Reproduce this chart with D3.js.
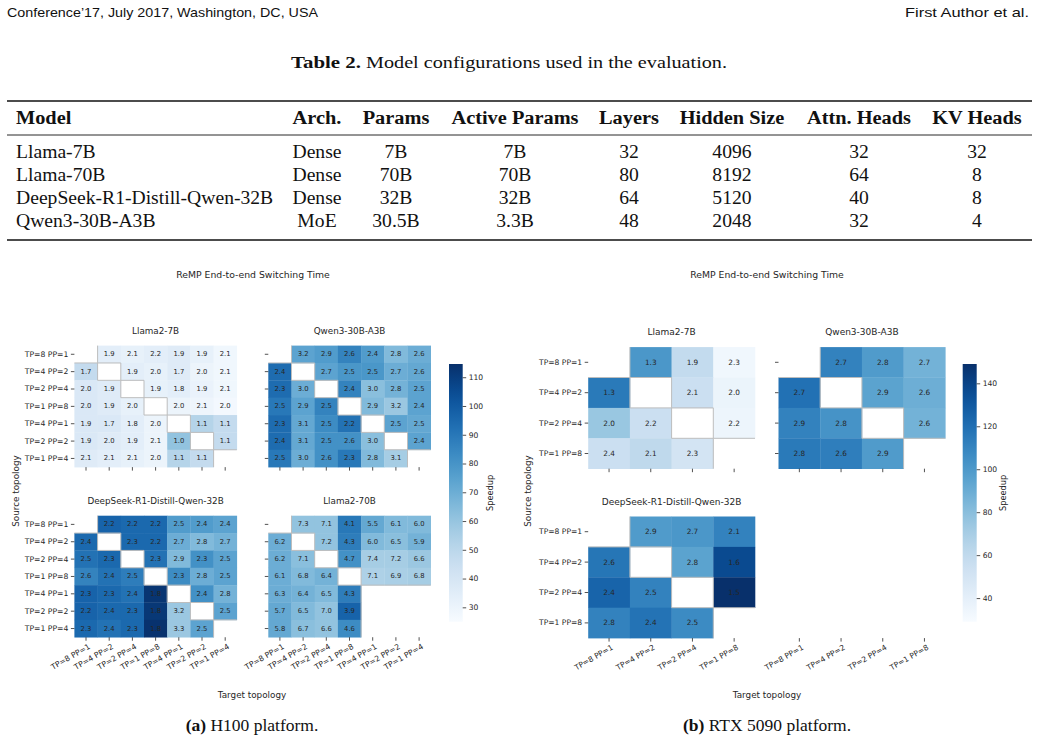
<!DOCTYPE html>
<html><head><meta charset="utf-8">
<script src="https://cdn.jsdelivr.net/npm/d3@7"></script>
<style>body{margin:0;background:#fff}svg{display:block}</style>
</head><body>
<svg id="fig" width="1039" height="743"></svg>
<script>
// ---------------- Table data ----------------
const tableHeader = ["Model","Arch.","Params","Active Params","Layers","Hidden Size","Attn. Heads","KV Heads"];
const models = ["Llama-7B","Llama-70B","DeepSeek-R1-Distill-Qwen-32B","Qwen3-30B-A3B"];
const archs = ["Dense","Dense","Dense","MoE"];
const params = ["7B","70B","32B","30.5B"];
const activeParams = ["7B","70B","32B","3.3B"];
const layers = ["32","80","64","48"];
const hiddenSize = ["4096","8192","5120","2048"];
const attnHeads = ["32","64","40","32"];
const kvHeads = ["32","8","8","4"];

// ---------------- Heatmap data ----------------
const topoH100 = ["TP=8 PP=1","TP=4 PP=2","TP=2 PP=4","TP=1 PP=8","TP=4 PP=1","TP=2 PP=2","TP=1 PP=4"];
const topoRTX = ["TP=8 PP=1","TP=4 PP=2","TP=2 PP=4","TP=1 PP=8"];

// annotated switching times (s); colour = speedup
const h100Llama7Time = [
 [null,1.9,2.1,2.2,1.9,1.9,2.1],
 [1.7,null,1.9,2.0,1.7,2.0,2.1],
 [2.0,1.9,null,1.9,1.8,1.9,2.1],
 [2.0,1.9,2.0,null,2.0,2.1,2.0],
 [1.9,1.7,1.8,2.0,null,1.1,1.1],
 [1.9,2.0,1.9,2.1,1.0,null,1.1],
 [2.1,2.1,2.1,2.0,1.1,1.1,null]];
const h100Llama7Speedup = [
 [null,34,32,34,36,32,28],
 [47,null,34,32,36,30,28],
 [38,36,null,32,34,31,28],
 [38,36,32,null,30,29,27],
 [38,38,34,30,null,52,47],
 [38,36,34,30,61,null,47],
 [36,34,32,30,52,47,null]];
const h100QwenTime = [
 [null,3.2,2.9,2.6,2.4,2.8,2.6],
 [2.4,null,2.7,2.5,2.5,2.7,2.6],
 [2.3,3.0,null,2.4,3.0,2.8,2.5],
 [2.5,2.9,2.5,null,2.9,3.2,2.4],
 [2.3,3.1,2.5,2.2,null,2.5,2.5],
 [2.4,3.1,2.5,2.6,3.0,null,2.4],
 [2.5,3.0,2.6,2.3,2.8,3.1,null]];
const h100QwenSpeedup = [
 [null,74,77,86,77,65,70],
 [94,null,74,79,79,70,72],
 [94,70,null,86,63,68,74],
 [90,74,86,null,65,59,74],
 [94,72,83,92,null,74,72],
 [94,72,81,81,63,null,74],
 [90,70,81,90,65,56,null]];
const h100DeepSeekTime = [
 [null,2.2,2.2,2.2,2.5,2.4,2.4],
 [2.4,null,2.3,2.2,2.7,2.8,2.7],
 [2.5,2.3,null,2.3,2.9,2.3,2.5],
 [2.6,2.4,2.5,null,2.3,2.8,2.5],
 [2.3,2.3,2.4,1.8,null,2.4,2.8],
 [2.2,2.4,2.3,1.8,3.2,null,2.5],
 [2.3,2.4,2.3,1.8,3.3,2.5,null]];
const h100DeepSeekSpeedup = [
 [null,97,95,95,77,77,74],
 [95,null,95,95,70,65,68],
 [92,95,null,92,65,81,74],
 [86,92,88,null,83,70,74],
 [97,95,92,113,null,81,68],
 [97,95,95,112,59,null,74],
 [95,92,95,114,59,74,null]];
const h100Llama70Time = [
 [null,7.3,7.1,4.1,5.5,6.1,6.0],
 [6.2,null,7.2,4.3,6.0,6.5,5.9],
 [6.2,7.1,null,4.7,7.4,7.2,6.6],
 [6.1,6.8,6.4,null,7.1,6.9,6.8],
 [6.3,6.4,6.5,4.3,null,null,null],
 [5.7,6.5,7.0,3.9,null,null,null],
 [5.8,6.7,6.6,4.6,null,null,null]];
const h100Llama70Speedup = [
 [null,61,61,90,72,65,65],
 [70,null,61,88,65,63,68],
 [70,63,null,81,56,56,59],
 [70,65,68,null,54,55,56],
 [70,68,65,88,null,null,null],
 [72,65,61,97,null,null,null],
 [72,63,61,83,null,null,null]];

const rtxLlama7Time = [
 [null,1.3,1.9,2.3],
 [1.3,null,2.1,2.0],
 [2.0,2.2,null,2.2],
 [2.4,2.1,2.3,null]];
const rtxLlama7Speedup = [
 [null,101,59,33],
 [115,null,55,36],
 [75,55,null,35],
 [55,61,51,null]];
const rtxQwenTime = [
 [null,2.7,2.8,2.7],
 [2.7,null,2.9,2.6],
 [2.9,2.8,null,2.6],
 [2.8,2.6,2.9,null]];
const rtxQwenSpeedup = [
 [null,111,99,87],
 [119,null,95,89],
 [111,103,null,87],
 [115,113,99,null]];
const rtxDeepSeekTime = [
 [null,2.9,2.7,2.1],
 [2.6,null,2.8,1.6],
 [2.4,2.5,null,1.5],
 [2.8,2.4,2.5,null]];
const rtxDeepSeekSpeedup = [
 [null,99,101,111],
 [117,null,95,137],
 [125,111,null,149],
 [111,118,107,null]];

const h100Domain = [25, 114.6];
const rtxDomain = [29, 149];
const h100Ticks = [30,40,50,60,70,80,90,100,110];
const rtxTicks = [40,60,80,100,120,140];

// ---------------- Drawing ----------------
const svg = d3.select("#fig");
const SANS = "DejaVu Sans";
const SERIF = "Liberation Serif";
const TXT = "#262626";

function stretch(sel, k) {
  const n = sel.node();
  const w = n.getComputedTextLength();
  sel.attr("textLength", w * k).attr("lengthAdjust", "spacingAndGlyphs");
  return sel;
}

// page header
svg.append("text").attr("x",7).attr("y",17).attr("font-family","Liberation Sans").attr("font-size",13)
  .attr("textLength",311).attr("lengthAdjust","spacingAndGlyphs").attr("fill","#111")
  .text("Conference’17, July 2017, Washington, DC, USA");
svg.append("text").attr("x",905).attr("y",17).attr("font-family","Liberation Sans")
  .attr("font-size",13).attr("textLength",124).attr("lengthAdjust","spacingAndGlyphs").attr("fill","#111").text("First Author et al.");

// table caption
svg.append("text").attr("x",291).attr("y",68).attr("font-family",SERIF).attr("font-size",16.5)
  .attr("font-weight","bold").attr("fill","#111").attr("textLength",70).attr("lengthAdjust","spacingAndGlyphs").text("Table 2.");
svg.append("text").attr("x",366).attr("y",68).attr("font-family",SERIF).attr("font-size",16.5)
  .attr("fill","#111").attr("textLength",361).attr("lengthAdjust","spacingAndGlyphs").text("Model configurations used in the evaluation.");

// table
const colX = [16, 317, 396, 515, 629, 732, 859, 977];
const rowY = [124, 158, 181, 204, 227];
const tbl = svg.append("g").attr("font-family",SERIF).attr("fill","#111");
tbl.append("line").attr("x1",7).attr("x2",1032).attr("y1",101).attr("y2",101).attr("stroke","#111").attr("stroke-width",1.6);
tbl.append("line").attr("x1",7).attr("x2",1032).attr("y1",135).attr("y2",135).attr("stroke","#111").attr("stroke-width",0.9);
tbl.append("line").attr("x1",7).attr("x2",1032).attr("y1",240).attr("y2",240).attr("stroke","#111").attr("stroke-width",1.6);
const rowsData = models.map((m,i)=>[m,archs[i],params[i],activeParams[i],layers[i],hiddenSize[i],attnHeads[i],kvHeads[i]]);
[tableHeader, ...rowsData].forEach((row, r) => {
  row.forEach((cell, c) => {
    const t = tbl.append("text").attr("x", colX[c]).attr("y", rowY[r])
      .attr("text-anchor", c === 0 ? "start" : "middle")
      .attr("font-size", 18).attr("font-weight", r === 0 ? "bold" : "normal")
      .text(cell);
    stretch(t, r === 0 ? 1.13 : 1.09);
  });
});

function heatmap(o) {
  const g = svg.append("g");
  const nr = o.rows.length, nc = o.cols.length;
  const x = d3.scaleBand().domain(o.cols).range([o.x0, o.x0 + o.cw*nc]);
  const y = d3.scaleBand().domain(o.rows).range([o.y0, o.y0 + o.rh*nr]);
  const color = d3.scaleSequential(d3.interpolateBlues).domain(o.domain);
  if (o.vals) {
    o.vals.forEach((row, i) => row.forEach((v, j) => {
      if (v == null) return;
      g.append("rect").attr("x", x(o.cols[j])).attr("y", y(o.rows[i]))
        .attr("width", x.bandwidth()+0.3).attr("height", y.bandwidth()+0.3).attr("fill", color(v));
    }));
    // light outline on the edges of masked cells that touch a coloured cell
    const has = (i, j) => i >= 0 && j >= 0 && i < nr && j < nc && o.vals[i][j] != null;
    const edges = g.append("g").attr("stroke", "#bdbdbd").attr("stroke-width", 1);
    o.vals.forEach((row, i) => row.forEach((v, j) => {
      if (v != null) return;
      const xl = x(o.cols[j]), xr = xl + x.bandwidth(), yt = y(o.rows[i]), yb = yt + y.bandwidth();
      if (has(i-1, j)) edges.append("line").attr("x1", xl).attr("x2", xr).attr("y1", yt).attr("y2", yt);
      if (has(i+1, j)) edges.append("line").attr("x1", xl).attr("x2", xr).attr("y1", yb).attr("y2", yb);
      if (has(i, j-1)) edges.append("line").attr("x1", xl).attr("x2", xl).attr("y1", yt).attr("y2", yb);
      if (has(i, j+1)) edges.append("line").attr("x1", xr).attr("x2", xr).attr("y1", yt).attr("y2", yb);
    }));
    o.annot.forEach((row, i) => row.forEach((v, j) => {
      if (v == null) return;
      g.append("text").attr("x", x(o.cols[j]) + x.bandwidth()/2).attr("y", y(o.rows[i]) + y.bandwidth()/2)
        .attr("text-anchor","middle").attr("dominant-baseline","central")
        .attr("font-family",SANS).attr("font-size",o.annotFs).attr("fill",TXT).text(v.toFixed(1));
    }));
    g.append("text").attr("x", o.x0 + o.cw*nc/2).attr("y", o.y0 - 12)
      .attr("text-anchor","middle").attr("font-family",SANS).attr("font-size",o.titleFs).attr("fill",TXT).text(o.title);
  }
  // y axis
  if (o.yTicks) {
    const ya = g.append("g").attr("transform", `translate(${o.x0},0)`)
      .call(d3.axisLeft(y).tickSize(3.5).tickPadding(2.5).tickFormat(o.yLabels ? (d=>d) : (()=>"")));
    ya.select(".domain").remove();
    ya.selectAll("line").attr("stroke",TXT).attr("stroke-width",0.8);
    ya.selectAll("text").attr("font-family",SANS).attr("font-size",o.tickFs).attr("fill",TXT);
  }
  // x axis
  const xb = o.y0 + o.rh*nr;
  const xa = g.append("g").attr("transform", `translate(0,${xb})`)
    .call(d3.axisBottom(x).tickSize(3.5).tickFormat(()=>""));
  xa.select(".domain").remove();
  xa.selectAll("line").attr("stroke",TXT).attr("stroke-width",0.8);
  if (o.xLabels) {
    o.cols.forEach(c => {
      const cx = x(c) + x.bandwidth()/2;
      g.append("text").attr("transform", `translate(${cx+2},${xb+6}) rotate(-30)`)
        .attr("text-anchor","end").attr("dy","0.72em").attr("font-family",SANS).attr("font-size",o.tickFs)
        .attr("fill",TXT).text(c);
    });
  }
}

function colorbar(o) {
  const g = svg.append("g");
  const id = o.id;
  const color = d3.scaleSequential(d3.interpolateBlues).domain(o.domain);
  const grad = svg.append("defs").append("linearGradient").attr("id", id)
    .attr("x1","0").attr("y1","1").attr("x2","0").attr("y2","0");
  d3.range(0, 1.0001, 0.05).forEach(t => grad.append("stop").attr("offset", t)
    .attr("stop-color", color(o.domain[0] + t*(o.domain[1]-o.domain[0]))));
  g.append("rect").attr("x", o.x).attr("y", o.y0).attr("width", o.w).attr("height", o.y1 - o.y0).attr("fill", `url(#${id})`);
  const s = d3.scaleLinear().domain(o.domain).range([o.y1, o.y0]);
  const ax = g.append("g").attr("transform", `translate(${o.x + o.w},0)`)
    .call(d3.axisRight(s).tickValues(o.ticks).tickSize(3.5).tickPadding(2.5));
  ax.select(".domain").remove();
  ax.selectAll("line").attr("stroke",TXT).attr("stroke-width",0.8);
  ax.selectAll("text").attr("font-family",SANS).attr("font-size",7.6).attr("fill",TXT);
  g.append("text").attr("transform", `translate(${o.labelX},${(o.y0+o.y1)/2}) rotate(-90)`)
    .attr("text-anchor","middle").attr("dominant-baseline","central").attr("font-family",SANS).attr("font-size",8.2)
    .attr("fill",TXT).text("Speedup");
}

// ---- H100 ----
const H = {cw: 23.2, rh: 17.36, rows: topoH100, cols: topoH100, domain: h100Domain, annotFs: 6.8, titleFs: 8.8, tickFs: 7.7};
heatmap({...H, x0: 74.4, y0: 345.6, annot: h100Llama7Time, vals: h100Llama7Speedup, title: "Llama2-7B", yTicks: true, yLabels: true, xLabels: false});
heatmap({...H, x0: 268.3, y0: 345.6, annot: h100QwenTime, vals: h100QwenSpeedup, title: "Qwen3-30B-A3B", yTicks: true, yLabels: false, xLabels: false});
heatmap({...H, x0: 74.4, y0: 515.7, annot: h100DeepSeekTime, vals: h100DeepSeekSpeedup, title: "DeepSeek-R1-Distill-Qwen-32B", yTicks: true, yLabels: true, xLabels: true});
heatmap({...H, x0: 268.3, y0: 515.7, annot: h100Llama70Time, vals: h100Llama70Speedup, title: "Llama2-70B", yTicks: true, yLabels: false, xLabels: true});
colorbar({id: "cbH", x: 449, w: 13.7, y0: 364, y1: 621.7, domain: h100Domain, ticks: h100Ticks, labelX: 490});

// ---- RTX 5090 ----
const R = {cw: 41.7, rh: 30.4, rows: topoRTX, cols: topoRTX, domain: rtxDomain, annotFs: 7.3, titleFs: 9.0, tickFs: 7.6};
heatmap({...R, x0: 588.2, y0: 347.1, annot: rtxLlama7Time, vals: rtxLlama7Speedup, title: "Llama2-7B", yTicks: true, yLabels: true, xLabels: false});
heatmap({...R, x0: 778.5, y0: 347.1, annot: rtxQwenTime, vals: rtxQwenSpeedup, title: "Qwen3-30B-A3B", yTicks: true, yLabels: false, xLabels: false});
heatmap({...R, x0: 588.2, y0: 516.5, annot: rtxDeepSeekTime, vals: rtxDeepSeekSpeedup, title: "DeepSeek-R1-Distill-Qwen-32B", yTicks: true, yLabels: true, xLabels: true});
heatmap({...R, x0: 778.5, y0: 516.5, annot: null, vals: null, title: "", yTicks: false, yLabels: false, xLabels: true});
colorbar({id: "cbR", x: 962.7, w: 14, y0: 364, y1: 621.7, domain: rtxDomain, ticks: rtxTicks, labelX: 1003});

// figure-level texts
function ftext(x, y, s, fs, rot) {
  svg.append("text").attr("transform", `translate(${x},${y})` + (rot ? ` rotate(${rot})` : ""))
    .attr("text-anchor","middle").attr("dominant-baseline","central")
    .attr("font-family",SANS).attr("font-size",fs).attr("fill",TXT).text(s);
}
ftext(253, 274, "ReMP End-to-end Switching Time", 9.3);
ftext(767, 274, "ReMP End-to-end Switching Time", 9.3);
ftext(16, 491, "Source topology", 8.8, -90);
ftext(528, 491, "Source topology", 8.8, -90);
ftext(252, 695, "Target topology", 8.8);
ftext(767, 695, "Target topology", 8.8);

// sub-captions
function caption(cx, label, rest) {
  const t = svg.append("text").attr("x", cx).attr("y", 731).attr("text-anchor","middle")
    .attr("font-family",SERIF).attr("font-size",17.5).attr("fill","#111");
  t.append("tspan").attr("font-weight","bold").text(label);
  t.append("tspan").text(" " + rest);
}
caption(252, "(a)", "H100 platform.");
caption(767, "(b)", "RTX 5090 platform.");
</script>
</body></html>
